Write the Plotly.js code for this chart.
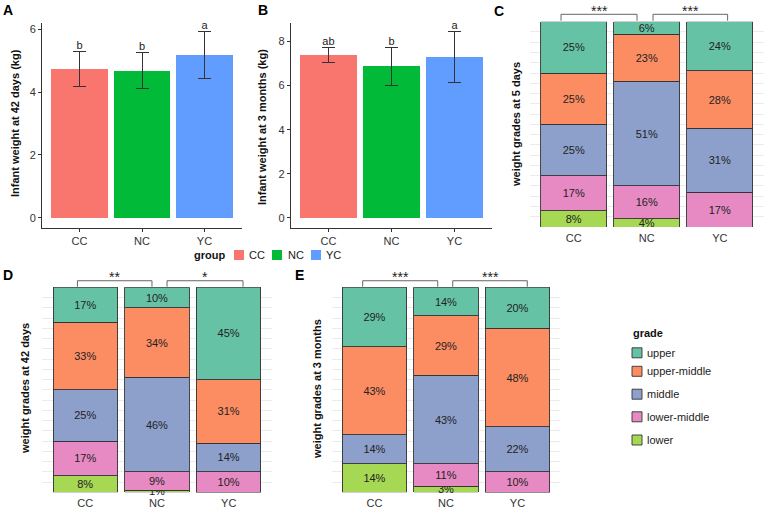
<!DOCTYPE html>
<html><head><meta charset="utf-8">
<script src="https://cdn.plot.ly/plotly-3.0.1.min.js"></script>
<style>html,body{margin:0;padding:0;background:#fff}</style>
</head><body><div id="chart" style="width:767px;height:512px"></div>
<script>
// ---------- data ----------
const groups = ['CC', 'NC', 'YC'];
const groupColors = ['#F8766D', '#00BA38', '#619CFF'];
const w42Mean = [4.73, 4.68, 5.17];
const w42Err = [0.55, 0.58, 0.75];
const w42Letters = ['b', 'b', 'a'];
const w3mMean = [7.38, 6.87, 7.30];
const w3mErr = [0.34, 0.85, 1.14];
const w3mLetters = ['ab', 'b', 'a'];

const grades = ['lower', 'lower-middle', 'middle', 'upper-middle', 'upper'];
const gradeColors = ['#A6D854', '#E78AC3', '#8DA0CB', '#FC8D62', '#66C2A5'];
// percent per grade (rows follow grades), columns CC, NC, YC
const d5Pct = [[8, 4, 0], [17, 16, 17], [25, 51, 31], [25, 23, 28], [25, 6, 24]];
const d42Pct = [[8, 1, 0], [17, 9, 10], [25, 46, 14], [33, 34, 31], [17, 10, 45]];
const m3Pct = [[14, 3, 0], [0, 11, 10], [14, 43, 22], [43, 29, 48], [29, 14, 20]];
const sig5 = ['***', '***'];
const sig42 = ['**', '*'];
const sig3m = ['***', '***'];

// ---------- helpers ----------
const W = 767, H = 512;
const FONT = 'Liberation Sans, Arial, sans-serif';
const px = v => v / W;
const py = v => 1 - v / H;
const idx2dom = i => (i + 0.6) / 3.2;

const traces = [];
function meanPanel(means, errs, letters, xa, ya) {
  groups.forEach((g, i) => {
    traces.push({
      type: 'bar', x: [g], y: [means[i]], xaxis: xa, yaxis: ya,
      marker: { color: groupColors[i], line: { width: 0 } },
      error_y: { type: 'data', array: [errs[i]], color: '#333', thickness: 1, width: 6.5 },
      showlegend: false, hoverinfo: 'x+y'
    });
  });
  traces.push({
    type: 'scatter', mode: 'text', x: groups, y: means.map((m, i) => m + errs[i]),
    text: letters, textposition: 'top center', xaxis: xa, yaxis: ya, cliponaxis: false,
    textfont: { family: FONT, size: 11, color: '#222' }, showlegend: false, hoverinfo: 'skip'
  });
}
meanPanel(w42Mean, w42Err, w42Letters, 'x', 'y');
meanPanel(w3mMean, w3mErr, w3mLetters, 'x2', 'y2');

function gradePanel(pct, xa, ya) {
  grades.forEach((gr, k) => {
    traces.push({
      type: 'bar', x: groups, y: pct[k], xaxis: xa, yaxis: ya, name: gr,
      text: pct[k].map(v => v > 0 ? v + '%' : ''),
      textposition: 'inside', insidetextanchor: 'middle', textangle: 0, cliponaxis: false,
      textfont: { family: FONT, size: 11, color: '#222' },
      marker: { color: gradeColors[k], line: { color: '#333', width: 0.9 } },
      showlegend: false, hoverinfo: 'x+y+name'
    });
  });
}
gradePanel(d5Pct, 'x3', 'y3');
gradePanel(d42Pct, 'x4', 'y4');
gradePanel(m3Pct, 'x5', 'y5');

// ---------- layout ----------
const tickFont = { family: FONT, size: 11, color: '#333' };
function meanX(dom) {
  return { domain: dom, type: 'category', categoryorder: 'array', categoryarray: groups,
    range: [-0.6, 2.6], showline: true, linecolor: '#333', linewidth: 1, ticks: 'outside',
    ticklen: 3, tickcolor: '#333', tickfont: tickFont, showgrid: false, zeroline: false, fixedrange: true };
}
function meanY(dom, rng) {
  return { domain: dom, range: rng, dtick: 2, tick0: 0, showline: true, linecolor: '#333', linewidth: 1,
    ticks: 'outside', ticklen: 3, tickcolor: '#333', tickfont: tickFont, showgrid: false, zeroline: false, fixedrange: true };
}
function gradeX(dom) {
  return { domain: dom, type: 'category', categoryorder: 'array', categoryarray: groups,
    range: [-0.6, 2.6], showline: false, ticks: '', ticklabelstandoff: 3, tickfont: tickFont,
    showgrid: false, zeroline: false, fixedrange: true };
}
function gradeY(dom) {
  return { domain: dom, range: [0, 100], dtick: 5, tick0: 0, showticklabels: false, ticks: '', showline: false,
    showgrid: true, gridcolor: '#ebebeb', gridwidth: 1, zeroline: false, fixedrange: true };
}

const topY = [py(227.7), py(23.3)];
const gradeTopY = [py(227), py(21.7)];
const botY = [py(492.3), py(287.3)];

const shapes = [];
const annotations = [];
function bracket(xa, ya, x0, x1, yTop, yLeg, label) {
  const xr = xa + ' domain', yr = ya + ' domain';
  const a = idx2dom(x0), b = idx2dom(x1);
  const ln = { color: '#555', width: 0.9 };
  shapes.push({ type: 'line', xref: xr, yref: yr, x0: a, x1: a, y0: yLeg, y1: yTop, line: ln });
  shapes.push({ type: 'line', xref: xr, yref: yr, x0: a, x1: b, y0: yTop, y1: yTop, line: ln });
  shapes.push({ type: 'line', xref: xr, yref: yr, x0: b, x1: b, y0: yLeg, y1: yTop, line: ln });
  annotations.push({ xref: xr, yref: yr, x: (a + b) / 2, y: yTop + 0.018, yanchor: 'middle', xanchor: 'center',
    text: label, showarrow: false, font: { family: FONT, size: 14, color: '#222' } });
}
bracket('x3', 'y3', -0.175, 0.866, 1.036, 1.005, sig5[0]);
bracket('x3', 'y3', 1.085, 2.107, 1.036, 1.005, sig5[1]);
bracket('x4', 'y4', -0.11, 0.93, 1.032, 1.003, sig42[0]);
bracket('x4', 'y4', 1.14, 2.2, 1.032, 1.003, sig42[1]);
bracket('x5', 'y5', -0.165, 0.884, 1.032, 1.003, sig3m[0]);
bracket('x5', 'y5', 1.094, 2.137, 1.032, 1.003, sig3m[1]);

// y titles
function ytitle(text, xpx, ypx) {
  annotations.push({ xref: 'paper', yref: 'paper', x: px(xpx), y: py(ypx), xanchor: 'center', yanchor: 'middle',
    text: text, textangle: -90, showarrow: false, font: { family: FONT, size: 11, color: '#111' } });
}
ytitle('<b>Infant weight at 42 days (kg)</b>', 15, 123);
ytitle('<b>Infant weight at 3 months (kg)</b>', 262, 127);
ytitle('<b>weight grades at 5 days</b>', 516, 125);
ytitle('<b>weight grades at 42 days</b>', 25, 389);
ytitle('<b>weight grades at 3 months</b>', 317, 389);

// panel letters
[['A', 8, 10], ['B', 263, 10], ['C', 499, 11], ['D', 8, 275], ['E', 299, 275]].forEach(p => {
  annotations.push({ xref: 'paper', yref: 'paper', x: px(p[1]), y: py(p[2]), xanchor: 'center', yanchor: 'middle',
    text: '<b>' + p[0] + '</b>', showarrow: false, font: { family: FONT, size: 14, color: '#000' } });
});

// group legend
annotations.push({ xref: 'paper', yref: 'paper', x: px(192), y: py(255), xanchor: 'left', yanchor: 'middle',
  text: '<b>group</b>', showarrow: false, font: { family: FONT, size: 11, color: '#111' } });
const gSq = [234, 272, 311], gTx = [247, 286, 324];
groups.forEach((g, i) => {
  shapes.push({ type: 'rect', xref: 'paper', yref: 'paper', x0: px(gSq[i]), x1: px(gSq[i] + 10), y0: py(260), y1: py(250),
    fillcolor: groupColors[i], line: { width: 0 } });
  annotations.push({ xref: 'paper', yref: 'paper', x: px(gTx[i]), y: py(255), xanchor: 'left', yanchor: 'middle',
    text: g, showarrow: false, font: { family: FONT, size: 11, color: '#222' } });
});

// grade legend
annotations.push({ xref: 'paper', yref: 'paper', x: px(631), y: py(332.7), xanchor: 'left', yanchor: 'middle',
  text: '<b>grade</b>', showarrow: false, font: { family: FONT, size: 11, color: '#111' } });
const lgY = [440, 416.8, 394.2, 371.3, 352.8];
grades.forEach((gr, k) => {
  shapes.push({ type: 'rect', xref: 'paper', yref: 'paper', x0: px(632), x1: px(642), y0: py(lgY[k] + 5), y1: py(lgY[k] - 5),
    fillcolor: gradeColors[k], line: { color: '#333', width: 0.9 } });
  annotations.push({ xref: 'paper', yref: 'paper', x: px(645), y: py(lgY[k]), xanchor: 'left', yanchor: 'middle',
    text: gr, showarrow: false, font: { family: FONT, size: 11, color: '#222' } });
});

const layout = {
  width: W, height: H, autosize: false,
  margin: { l: 0, r: 0, t: 0, b: 0 },
  paper_bgcolor: '#fff', plot_bgcolor: 'rgba(0,0,0,0)',
  font: { family: FONT, size: 11, color: '#222' },
  barmode: 'stack', bargap: 0.1,
  uniformtext: { mode: 'show', minsize: 11 },
  showlegend: false,
  xaxis: meanX([px(42), px(242)]), yaxis: meanY(topY, [-0.32, 6.19]),
  xaxis2: meanX([px(290.7), px(492.3)]), yaxis2: meanY(topY, [-0.45, 8.83]),
  xaxis3: gradeX([px(530), px(763.6)]), yaxis3: gradeY(gradeTopY),
  xaxis4: gradeX([px(42.3), px(271.7)]), yaxis4: gradeY(botY),
  xaxis5: gradeX([px(331.6), px(560.4)]), yaxis5: gradeY(botY),
  shapes: shapes, annotations: annotations
};
layout.xaxis.anchor = 'y'; layout.yaxis.anchor = 'x';
layout.xaxis2.anchor = 'y2'; layout.yaxis2.anchor = 'x2';
layout.xaxis3.anchor = 'y3'; layout.yaxis3.anchor = 'x3';
layout.xaxis4.anchor = 'y4'; layout.yaxis4.anchor = 'x4';
layout.xaxis5.anchor = 'y5'; layout.yaxis5.anchor = 'x5';

Plotly.newPlot('chart', traces, layout, { displayModeBar: false, staticPlot: true });
</script></body></html>
